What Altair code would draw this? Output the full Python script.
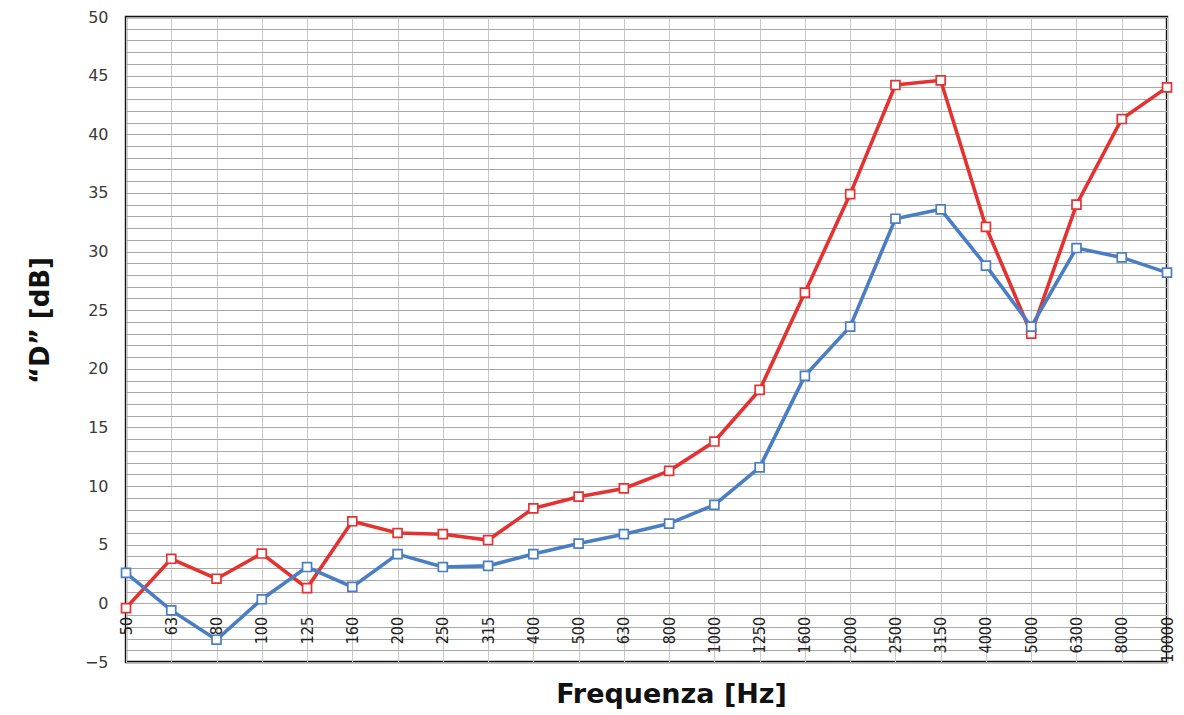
import altair as alt
import pandas as pd

freqs = ["50", "63", "80", "100", "125", "160", "200", "250", "315", "400", "500", "630",
         "800", "1000", "1250", "1600", "2000", "2500", "3150", "4000", "5000", "6300",
         "8000", "10000"]
red_vals = [-0.4, 3.8, 2.1, 4.25, 1.3, 7.0, 6.0, 5.9, 5.4, 8.1, 9.1, 9.8,
            11.3, 13.8, 18.2, 26.5, 34.9, 44.2, 44.6, 32.1, 23.0, 34.0,
            41.3, 44.0]
blue_vals = [2.6, -0.6, -3.1, 0.35, 3.1, 1.4, 4.2, 3.1, 3.2, 4.2, 5.1, 5.9,
             6.8, 8.4, 11.6, 19.4, 23.6, 32.8, 33.6, 28.8, 23.6, 30.3,
             29.5, 28.2]
series = ["Rosso", "Blu"]
colors = ["#e5312f", "#4a7ec4"]

rows = []
for f, r, b in zip(freqs, red_vals, blue_vals):
    rows.append({"freq": f, "serie": series[0], "D": r})
    rows.append({"freq": f, "serie": series[1], "D": b})
df = pd.DataFrame(rows)

W, H = 1041, 645
zero_off = -H * 5 / 55.0

x_enc = alt.X(
    "freq:N", sort=freqs,
    scale=alt.Scale(type="point", padding=0),
    axis=alt.Axis(
        title="Frequenza [Hz]", orient="bottom", offset=zero_off,
        grid=True, gridColor="#c8c8c8", gridWidth=1,
        domain=False, ticks=False,
        labelAngle=-90, labelAlign="right", labelBaseline="middle",
        labelPadding=13, labelFont="Liberation Sans Narrow, DejaVu Sans Condensed, Liberation Sans",
        labelFontSize=16, labelColor="#222222", labelOverlap=False, labelBound=False,
        labelFlush=False,
        titleFont="DejaVu Sans", titleFontSize=27, titleFontWeight="bold",
        titleColor="#111111", titleX=545, titleY=-zero_off + 32, titleBaseline="middle",
        titleAlign="center",
    ),
)
y_enc = alt.Y(
    "D:Q",
    scale=alt.Scale(domain=[-5, 50], nice=False, zero=False),
    axis=alt.Axis(
        title="“D” [dB]", values=list(range(-5, 51)),
        labelExpr="datum.value % 5 == 0 ? datum.label : ''",
        grid=True, gridColor="#a8a8a8", gridWidth=1,
        domain=False, ticks=False, labelPadding=18,
        labelFont="DejaVu Sans", labelFontSize=16, labelColor="#3a3a3a",
        titleFont="DejaVu Sans", titleFontSize=26, titleFontWeight="bold",
        titleColor="#111111", titleX=-86, titleY=303, titleAngle=-90,
        titleAlign="center", titleBaseline="middle",
    ),
)

layers = []
for s, c in zip(series, colors):
    base = alt.Chart(df).transform_filter(alt.datum.serie == s)
    layers.append(base.mark_line(color=c, strokeWidth=3.6).encode(x=x_enc, y=y_enc))
    layers.append(base.mark_point(shape="square", filled=True, fill="white", stroke=c,
                                  strokeWidth=1.7, size=80, opacity=1).encode(x=x_enc, y=y_enc))

chart = alt.layer(*layers).properties(
    width=W, height=H,
    autosize=alt.AutoSizeParams(type="none"),
    padding={"left": 118, "top": 9, "right": 9, "bottom": 50},
    background="white",
).configure_view(stroke="#111111", strokeWidth=2.4)

chart.save("out.html", embed_options={"renderer": "svg", "actions": False})
